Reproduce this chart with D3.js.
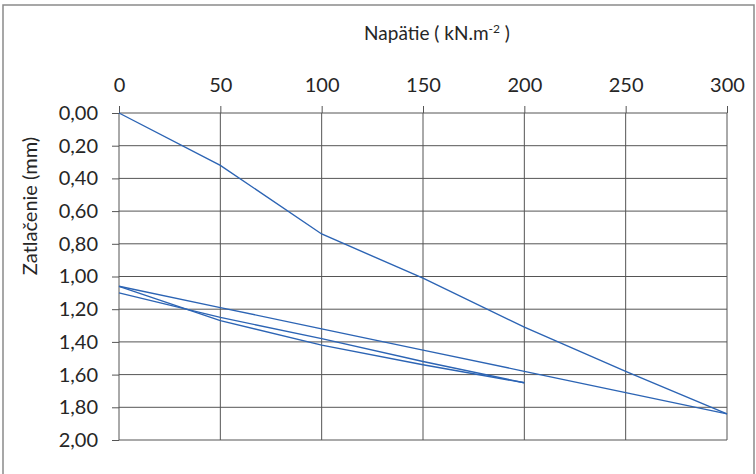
<!DOCTYPE html>
<html>
<head>
<meta charset="utf-8">
<script src="https://cdn.jsdelivr.net/npm/d3@7"></script>
<style>
  body { margin: 0; background: #fff; }
  svg { display: block; }
  .tick text { font-family: Lato, "Open Sans", sans-serif; font-size: 20px; fill: #262626; }
  .osi { font-family: Lato, "Open Sans", sans-serif; fill: #262626; }
</style>
</head>
<body>
<svg width="756" height="474"></svg>
<script>
// napätie (kN.m-2) a zatlačenie (mm) pre jednotlivé vetvy
const napatieZat1 = [0, 50, 100, 150, 200, 250, 300];
const zatlacenieZat1 = [0, 0.32, 0.74, 1.01, 1.31, 1.58, 1.84];

const napatieOdl1 = [300, 250, 200, 150, 100, 50, 0];
const zatlacenieOdl1 = [1.84, 1.71, 1.58, 1.45, 1.32, 1.19, 1.06];

const napatieZat2 = [0, 50, 100, 150, 200];
const zatlacenieZat2 = [1.06, 1.27, 1.42, 1.54, 1.65];

const napatieOdl2 = [200, 150, 100, 50, 0];
const zatlacenieOdl2 = [1.65, 1.52, 1.38, 1.25, 1.10];

const xTicky = [0, 50, 100, 150, 200, 250, 300];
const yTicky = [0, 0.2, 0.4, 0.6, 0.8, 1.0, 1.2, 1.4, 1.6, 1.8, 2.0];

const svg = d3.select('svg');

const marg = { cima: 113, vlavo: 119, vpravo: 28, dole: 34 };
const sirka = +svg.attr('width');
const vyska = +svg.attr('height');

// ramik okolo grafu
svg.append('rect')
    .attr('x', 3).attr('y', 5)
    .attr('width', 751).attr('height', 480)
    .attr('fill', 'none')
    .attr('stroke', '#8a8a8a')
    .attr('stroke-width', 1.5);

const xEscala = d3.scaleLinear()
    .domain([0, 300])
    .range([marg.vlavo, sirka - marg.vpravo - 1]);

const yEscala = d3.scaleLinear()
    .domain([0, 2])
    .range([marg.cima, vyska - marg.dole]);

// mriezka
svg.append('g').selectAll('line').data(xTicky)
    .enter().append('line')
    .attr('x1', d => xEscala(d)).attr('x2', d => xEscala(d))
    .attr('y1', yEscala(0)).attr('y2', yEscala(2))
    .attr('stroke', '#555').attr('stroke-width', 1);

svg.append('g').selectAll('line').data(yTicky)
    .enter().append('line')
    .attr('x1', xEscala(0)).attr('x2', xEscala(300))
    .attr('y1', d => yEscala(d)).attr('y2', d => yEscala(d))
    .attr('stroke', '#555').attr('stroke-width', 1);

const xAxis = d3.axisTop(xEscala)
    .tickValues(xTicky)
    .tickSize(7)
    .tickPadding(14);

const xAxisG = svg.append('g')
    .attr('transform', `translate(0,${yEscala(0)})`)
    .call(xAxis);
xAxisG.select('.domain').remove();
xAxisG.selectAll('.tick line').attr('stroke', '#555');

const yAxis = d3.axisLeft(yEscala)
    .tickValues(yTicky)
    .tickFormat(d => d3.format('.2f')(d).replace('.', ','))
    .tickSize(7)
    .tickPadding(14);

const yAxisG = svg.append('g')
    .attr('transform', `translate(${xEscala(0)},0)`)
    .call(yAxis);
yAxisG.select('.domain').remove();
yAxisG.selectAll('.tick line').attr('stroke', '#555');

// krivky
const vetvy = [
    [napatieZat1, zatlacenieZat1],
    [napatieOdl1, zatlacenieOdl1],
    [napatieZat2, zatlacenieZat2],
    [napatieOdl2, zatlacenieOdl2]
];

const ciara = d3.line()
    .x(d => xEscala(d[0]))
    .y(d => yEscala(d[1]));

svg.append('g').selectAll('path').data(vetvy)
    .enter().append('path')
    .attr('d', v => ciara(d3.zip(v[0], v[1])))
    .attr('fill', 'none')
    .attr('stroke', '#2c64b4')
    .attr('stroke-width', 1.4);

// popisy osi
const titulX = svg.append('text')
    .attr('class', 'osi')
    .attr('x', 437).attr('y', 40)
    .attr('text-anchor', 'middle')
    .style('font-size', '19px');
titulX.append('tspan').text('Napätie ( kN.m');
titulX.append('tspan').text('-2').attr('dy', -7).style('font-size', '12px');
titulX.append('tspan').text(' )').attr('dy', 7);

svg.append('text')
    .attr('class', 'osi')
    .attr('transform', 'translate(37,206) rotate(-90)')
    .attr('text-anchor', 'middle')
    .style('font-size', '20px')
    .text('Zatlačenie (mm)');
</script>
</body>
</html>
